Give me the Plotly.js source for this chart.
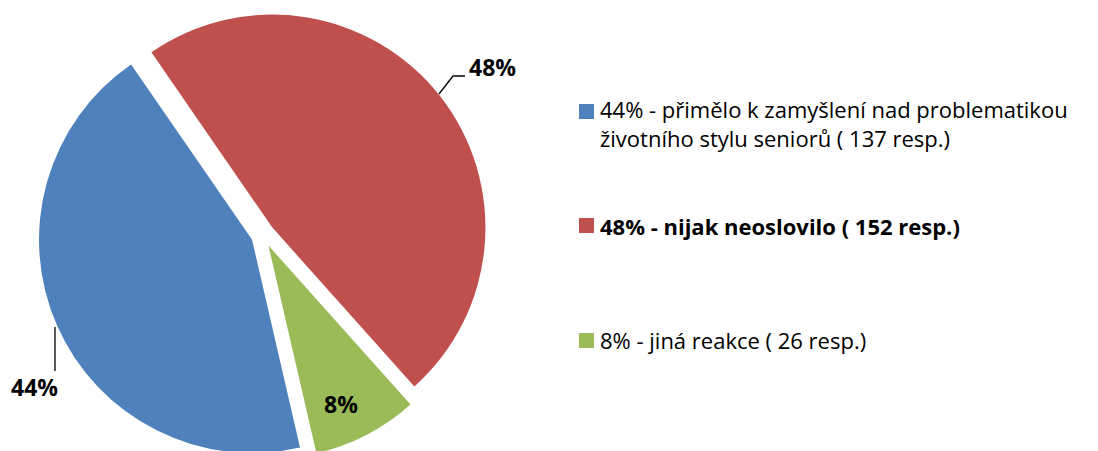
<!DOCTYPE html>
<html>
<head>
<meta charset="utf-8">
<script src="https://cdn.plot.ly/plotly-3.0.1.min.js"></script>
<style>
html,body{margin:0;padding:0;overflow:hidden;background:#fff;}
#chart{width:1098px;height:500px;}
</style>
</head>
<body>
<div id="chart"></div>
<script>
// ---- data ----
const categories = ['přimělo k zamyšlení nad problematikou životního stylu seniorů', 'nijak neoslovilo', 'jiná reakce'];
const percents = [44, 48, 8];
const respondents = [137, 152, 26];
const legendLabels = [
  '44% - přimělo k zamyšlení nad problematikou<br>životního stylu seniorů ( 137 resp.)',
  '<b>48% - nijak neoslovilo ( 152 resp.)</b>',
  '8% - jiná reakce ( 26 resp.)'
];
const colors = ['#4F81BD', '#C0504D', '#9BBB59'];

// ---- layout helpers (pixel -> paper) ----
const W = 1098, H = 500;
const px = x => x / W;
const py = y => 1 - y / H;

const LABEL_FONT = '"Open Sans", Lato, sans-serif';
const LEGEND_FONT = '"Open Sans", Lato, sans-serif';

const trace = {
  type: 'pie',
  values: percents,
  labels: categories,
  customdata: respondents,
  sort: false,
  direction: 'clockwise',
  rotation: 167,
  pull: [0.056, 0.056, 0.056],
  marker: {colors: colors, line: {width: 0}},
  textposition: ['none', 'none', 'none'],
  hoverinfo: 'none',
  domain: {x: [px(38), px(488)], y: [py(460), py(10)]},
  showlegend: false
};

const annotations = [];
const shapes = [];

// pie labels (percent values) with leader lines
annotations.push({xref:'paper', yref:'paper', x: px(492), y: py(67), xanchor:'center', yanchor:'middle',
  text: '<b>' + percents[1] + '%</b>', showarrow:false, font:{family:LABEL_FONT, size:23, color:'#000'}});
annotations.push({xref:'paper', yref:'paper', x: px(34), y: py(387), xanchor:'center', yanchor:'middle',
  text: '<b>' + percents[0] + '%</b>', showarrow:false, font:{family:LABEL_FONT, size:23, color:'#000'}});
annotations.push({xref:'paper', yref:'paper', x: px(341), y: py(404), xanchor:'center', yanchor:'middle',
  text: '<b>' + percents[2] + '%</b>', showarrow:false, font:{family:LABEL_FONT, size:23, color:'#000'}});
shapes.push({type:'path', xref:'paper', yref:'paper',
  path: `M ${px(439)} ${py(94)} L ${px(453)} ${py(76)} L ${px(465)} ${py(76)}`,
  line:{color:'#000', width:1.3}});
shapes.push({type:'line', xref:'paper', yref:'paper', x0: px(55), x1: px(55), y0: py(327), y1: py(371),
  line:{color:'#000', width:1.3}});

// legend
const legendCenters = [123, 226, 340];
const squareTops = [104, 218, 333];
for (let i = 0; i < legendLabels.length; i++) {
  annotations.push({xref:'paper', yref:'paper', x: px(598), y: py(legendCenters[i]), xanchor:'left', yanchor:'middle',
    align:'left', text: legendLabels[i], showarrow:false, font:{family:LEGEND_FONT, size:22, color:'#000'}});
  shapes.push({type:'rect', xref:'paper', yref:'paper', x0: px(579), x1: px(594), y0: py(squareTops[i]), y1: py(squareTops[i] + 15),
    fillcolor: colors[i], line:{width:0}});
}

const layout = {
  width: W, height: H,
  margin: {l:0, r:0, t:0, b:0},
  paper_bgcolor: '#fff',
  showlegend: false,
  annotations: annotations,
  shapes: shapes,
  font: {family: LEGEND_FONT}
};

Plotly.newPlot('chart', [trace], layout, {staticPlot: true, displayModeBar: false});
</script>
</body>
</html>
